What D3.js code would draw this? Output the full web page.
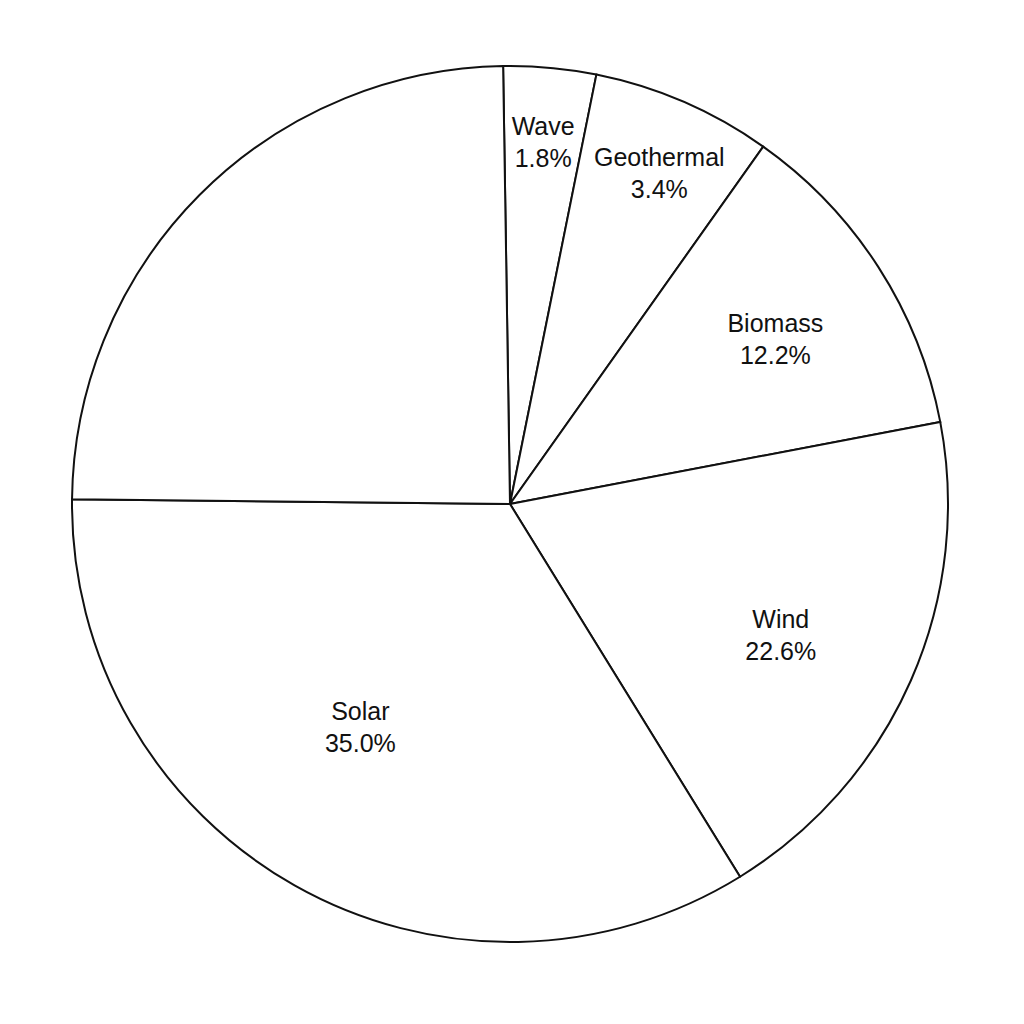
<!DOCTYPE html>
<html lang="en">
<head>
    <meta charset="UTF-8">
    <title>Renewable Energy Share</title>
    <script src="https://d3js.org/d3.v7.min.js"></script>
    <style>
        body { margin: 0; background: #fff; }
        .slice path { fill: #fff; stroke: #111; stroke-width: 2; }
        .label text { font-family: "Liberation Sans", Arial, sans-serif; font-size: 25px; fill: #111; }
    </style>
</head>
<body>
    <svg id="pieChart" width="1024" height="1024"></svg>

    <script>
        // slices clockwise from 12 o'clock; sizes (degrees / 3.6)
        const sources = ["Wave", "Geothermal", "Biomass", "Wind", "Solar", "Other"];
        const shares = [3.41, 6.65, 12.19, 19.2, 33.97, 24.58];
        const shareLabels = ["1.8%", "3.4%", "12.2%", "22.6%", "35.0%", ""];
        const showLabel = [true, true, true, true, true, false];

        // label placement: distance as fraction of radius, angle nudge in degrees
        const labelDist = [0.83, 0.83, 0.714, 0.687, 0.613, 0.6];
        const labelNudge = [0, 0.9, 0.8, 2.1, 4.4, 0];

        const cx = 510, cy = 504, radius = 438;
        const rad = Math.PI / 180;
        const svg = d3.select("#pieChart");
        const g = svg.append("g").attr("transform", `translate(${cx},${cy})`);

        const rows = sources.map((s, i) => ({ source: s, value: shares[i], pct: shareLabels[i], show: showLabel[i], dist: labelDist[i], nudge: labelNudge[i] }));
        // chart is turned a hair anticlockwise in the original
        const pie = d3.pie().value(d => d.value).sort(null)
            .startAngle(-0.9 * rad).endAngle(359.1 * rad);
        const arc = d3.arc().innerRadius(0).outerRadius(radius);
        const arcs = pie(rows);

        g.append("g").attr("class", "slice").selectAll("path").data(arcs).enter().append("path")
            .attr("d", arc);

        const lab = g.append("g").attr("class", "label").selectAll("text")
            .data(arcs.filter(d => d.data.show)).enter().append("text")
            .attr("text-anchor", "middle")
            .attr("transform", d => {
                const r = radius * d.data.dist;
                const a = (d.startAngle + d.endAngle) / 2 + d.data.nudge * rad;
                return `translate(${r * Math.sin(a)},${-r * Math.cos(a)})`;
            });
        lab.append("tspan").attr("x", 0).attr("y", -7).text(d => d.data.source);
        lab.append("tspan").attr("x", 0).attr("y", 25).text(d => d.data.pct);
    </script>
</body>
</html>
